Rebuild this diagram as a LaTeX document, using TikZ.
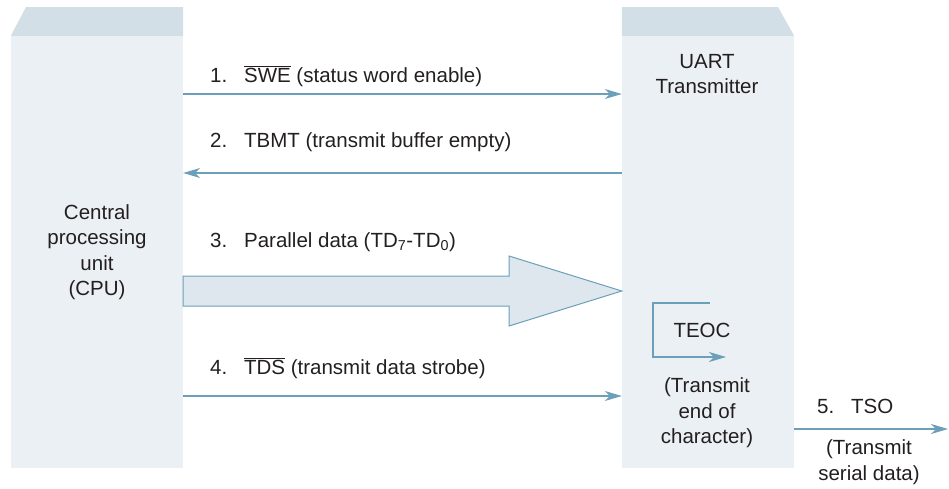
\documentclass[tikz,border=0pt]{standalone}
\usepackage{fontspec}
\setmainfont{Liberation Sans}
\usetikzlibrary{arrows.meta,positioning}
\definecolor{faceFill}{RGB}{235,240,244}
\definecolor{topFill}{RGB}{211,223,230}
\definecolor{sigBlue}{RGB}{107,159,186}
\definecolor{busFill}{RGB}{222,231,238}
\definecolor{inkGray}{RGB}{35,31,32}

\begin{document}
\begin{tikzpicture}[
  x=1pt, y=-1pt,
  font=\fontsize{20.5}{25.5}\selectfont,
  text=inkGray,
  block/.style={
    fill=faceFill,
    inner sep=0pt,
    minimum width=172pt,
    minimum height=432pt,
    align=center,
  },
  topface/.style={fill=topFill},
  sig/.style={
    draw=sigBlue,
    line width=1.2pt,
    -{Stealth[length=17pt,width=10pt,inset=5pt]},
  },
  busarrow/.style={
    draw=sigBlue,
    fill=busFill,
    line width=1pt,
  },
  lbl/.style={anchor=base west, inner sep=0pt},
  txt/.style={align=center, inner sep=0pt},
]

  \useasboundingbox (0,0) rectangle (949,488);

  % the two units
  \node[block] (cpu) at (97,252)
    {Central\\processing\\unit\\(CPU)};
  \node[block] (uart) at (708,252) {};
  \fill[topface] (cpu.north west) -- (26,7) -- (cpu.north east |- 0,7)
    -- (cpu.north east) -- cycle;
  \fill[topface] (uart.north west) -- (uart.north west |- 0,7)
    -- (778,7) -- (uart.north east) -- cycle;
  \node[txt] (uartname) at (707,74) {UART\\Transmitter};

  % signal labels
  \node[lbl] (swe) at (210,82)
    {1.\hspace{0.45em} $\overline{\hbox{SWE}}$ (status word enable)};
  \node[lbl] (tbmt) at (210,147)
    {2.\hspace{0.45em} TBMT (transmit buffer empty)};
  \node[lbl] (pdata) at (210,247)
    {3.\hspace{0.45em} Parallel data (TD\textsubscript{7}-TD\textsubscript{0})};
  \node[lbl] (tds) at (210,374)
    {4.\hspace{0.45em} $\overline{\hbox{TDS}}$ (transmit data strobe)};

  % handshake lines
  \draw[sig] (cpu.east |- 0,94) -- (uart.west |- 0,94);
  \draw[sig] (uart.west |- 0,173) -- (cpu.east |- 0,173);
  \draw[sig] (cpu.east |- 0,396) -- (uart.west |- 0,396);

  % parallel data bus
  \draw[busarrow] (cpu.east |- 0,276) -- (509,276) -- (509,256)
    -- (uart.west |- 0,291) -- (509,326) -- (509,306)
    -- (cpu.east |- 0,306) -- cycle;

  % end of character
  \coordinate (teocin) at (710,303);
  \coordinate (teocout) at (726,357);
  \draw[sig] (teocin) -- (653,303) |- (teocout);
  \node[txt, anchor=base] (teoc) at (702,337) {TEOC};
  \node[txt] (teocdesc) at (707,413) {(Transmit\\end of\\character)};

  % serial output
  \coordinate (tsoend) at (948,429);
  \draw[sig] (uart.east |- tsoend) -- (tsoend);
  \node[lbl] (tso) at (817,413) {5.\hspace{0.45em} TSO};
  \node[txt] (tsodesc) at (869,462) {(Transmit\\serial data)};

\end{tikzpicture}
\end{document}
